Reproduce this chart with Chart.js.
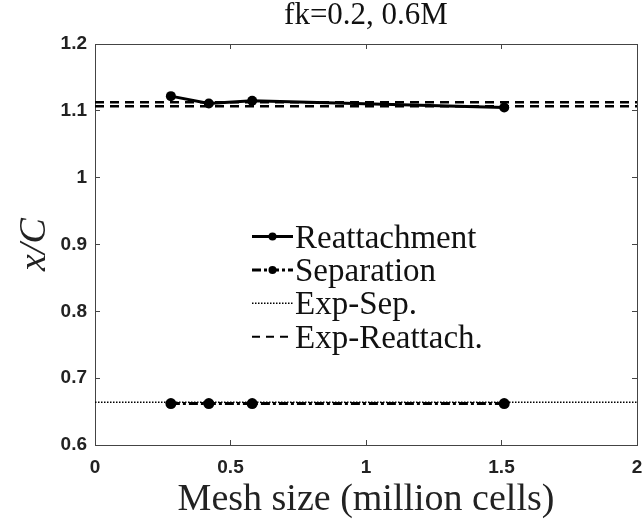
<!DOCTYPE html>
<html><head><meta charset="utf-8">
<script src="https://cdn.jsdelivr.net/npm/chart.js@4/dist/chart.umd.min.js"></script>
<style>html,body{margin:0;padding:0;background:#fff}</style>
</head><body>
<canvas id="c" width="643" height="525"></canvas>
<script>
// ---- data ----
const meshSize = [0.28, 0.42, 0.58, 1.51];
const reattachment = [1.122, 1.111, 1.115, 1.105];
const separation = [0.662, 0.662, 0.662, 0.662];
const expSep = [0.664, 0.664];
const expReattachA = [1.113, 1.113];
const expReattachB = [1.107, 1.107];
const expX = [0, 2];
const xTicks = [0, 0.5, 1, 1.5, 2];
const xTickLabels = ['0', '0.5', '1', '1.5', '2'];
const yTicks = [0.6, 0.7, 0.8, 0.9, 1, 1.1, 1.2];
const yTickLabels = ['0.6', '0.7', '0.8', '0.9', '1', '1.1', '1.2'];
const seriesNames = ['Reattachment', 'Separation', 'Exp-Sep.', 'Exp-Reattach.'];
const titleText = 'fk=0.2, 0.6M';
const xTitle = 'Mesh size (million cells)';
const yTitle = 'x/C';

const pts = (xs, ys) => xs.map((x, i) => ({x: x, y: ys[i]}));
const lab = (ticks, labels) => v => {
  const i = ticks.findIndex(t => Math.abs(t - v) < 1e-9);
  return i >= 0 ? labels[i] : '';
};
const setTicks = ticks => s => { s.ticks = ticks.map(v => ({value: v})); };
const fitH = h => s => { s.height = h; s.paddingLeft = 0; s.paddingRight = 0; };
const fitW = w => s => { s.width = w; s.paddingTop = 0; s.paddingBottom = 0; };

const AX = '#444';
const TICKFONT = {family: 'Liberation Sans', size: 19, weight: 'bold'};

const legendPlugin = {
  id: 'insideLegend',
  afterDatasetsDraw(chart, args, o) {
    const ctx = chart.ctx;
    const items = chart.data.datasets.filter(d => d.inLegend);
    ctx.save();
    items.forEach((d, i) => {
      const y = o.y + i * o.gap;
      ctx.beginPath();
      ctx.strokeStyle = d.borderColor;
      ctx.lineWidth = d.borderWidth;
      ctx.setLineDash(d.borderDash || []);
      ctx.moveTo(o.x0, y);
      ctx.lineTo(o.x1, y);
      ctx.stroke();
      ctx.setLineDash([]);
      if (d.pointRadius > 0) {
        ctx.beginPath();
        ctx.fillStyle = d.pointBackgroundColor;
        ctx.arc((o.x0 + o.x1) / 2, y, o.r, 0, Math.PI * 2);
        ctx.fill();
      }
      ctx.fillStyle = '#111';
      ctx.font = o.size + 'px "Liberation Serif"';
      ctx.textAlign = 'left';
      ctx.textBaseline = 'alphabetic';
      ctx.fillText(d.label, o.tx, y + o.base);
    });
    ctx.restore();
  }
};

new Chart(document.getElementById('c'), {
  type: 'scatter',
  data: {
    datasets: [
      {label: seriesNames[3], inLegend: false, data: pts(expX, expReattachA), showLine: true,
       borderColor: '#000', borderWidth: 2.5, borderDash: [9, 6], pointRadius: 0},
      {label: seriesNames[3], inLegend: false, data: pts(expX, expReattachB), showLine: true,
       borderColor: '#000', borderWidth: 2.5, borderDash: [9, 6], pointRadius: 0},
      {label: seriesNames[2], inLegend: false, data: pts(expX, expSep), showLine: true,
       borderColor: '#000', borderWidth: 1.5, borderDash: [1.5, 1.5], pointRadius: 0},
      {label: seriesNames[0], inLegend: true, data: pts(meshSize, reattachment), showLine: true,
       borderColor: '#000', borderWidth: 3, pointRadius: 5, pointBackgroundColor: '#000',
       pointBorderColor: '#000', pointBorderWidth: 0},
      {label: seriesNames[1], inLegend: true, data: pts(meshSize, separation), showLine: true,
       borderColor: '#000', borderWidth: 3, borderDash: [9, 3, 3, 3], pointRadius: 5.5,
       pointBackgroundColor: '#000', pointBorderColor: '#000', pointBorderWidth: 0},
      {label: seriesNames[2], inLegend: true, data: [], showLine: true,
       borderColor: '#000', borderWidth: 1.5, borderDash: [1.5, 1.5], pointRadius: 0},
      {label: seriesNames[3], inLegend: true, data: [], showLine: true,
       borderColor: '#000', borderWidth: 2, borderDash: [8, 6], pointRadius: 0}
    ]
  },
  options: {
    responsive: false,
    animation: false,
    layout: {padding: 0},
    plugins: {
      legend: {display: false},
      tooltip: {enabled: false},
      title: {display: true, text: titleText, fullSize: false, color: '#111',
              font: {family: 'Liberation Serif', size: 31, weight: 'normal', lineHeight: 1},
              padding: {top: 0, bottom: 13}},
      insideLegend: {x0: 252, x1: 293, tx: 295, y: 236.5, gap: 33.4, r: 4, size: 33, base: 11}
    },
    scales: {
      x: {type: 'linear', position: 'bottom', min: 0, max: 2,
          afterBuildTicks: setTicks(xTicks),
          afterFit: fitH(80),
          ticks: {callback: lab(xTicks, xTickLabels), font: TICKFONT, color: '#222', padding: 16, maxRotation: 0},
          grid: {drawOnChartArea: false, drawTicks: true, tickLength: -5, color: AX, lineWidth: 1},
          border: {display: true, color: AX, width: 1},
          title: {display: true, text: xTitle, color: '#222',
                  font: {family: 'Liberation Serif', size: 38, lineHeight: 1}, padding: {top: 0, bottom: 6}}},
      x2: {type: 'linear', position: 'top', min: 0, max: 2,
          afterBuildTicks: setTicks(xTicks),
          afterFit: fitH(0),
          ticks: {display: false},
          grid: {drawOnChartArea: false, drawTicks: true, tickLength: -5, color: AX, lineWidth: 1},
          border: {display: true, color: AX, width: 1}},
      y: {type: 'linear', position: 'left', min: 0.6, max: 1.2,
          afterBuildTicks: setTicks(yTicks),
          afterFit: fitW(95),
          ticks: {callback: lab(yTicks, yTickLabels), font: TICKFONT, color: '#222', padding: 13},
          grid: {drawOnChartArea: false, drawTicks: true, tickLength: -5, color: AX, lineWidth: 1},
          border: {display: true, color: AX, width: 1},
          title: {display: true, text: yTitle, color: '#222',
                  font: {family: 'Liberation Serif', size: 38, style: 'italic', lineHeight: 1}, padding: {top: 16, bottom: 0}}},
      y2: {type: 'linear', position: 'right', min: 0.6, max: 1.2,
          afterBuildTicks: setTicks(yTicks),
          afterFit: fitW(6),
          ticks: {display: false},
          grid: {drawOnChartArea: false, drawTicks: true, tickLength: -5, color: AX, lineWidth: 1},
          border: {display: true, color: AX, width: 1}}
    }
  },
  plugins: [legendPlugin]
});
</script>
</body></html>
